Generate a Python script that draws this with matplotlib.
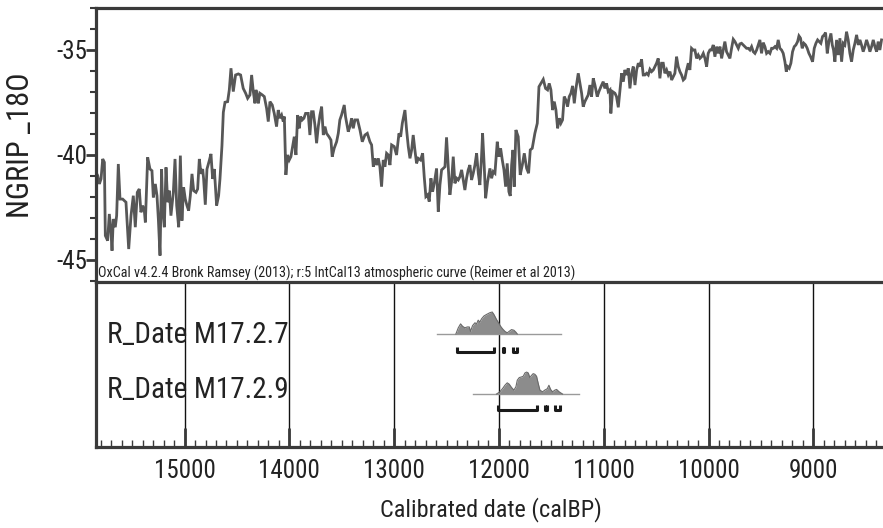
import matplotlib
matplotlib.use("Agg")
import matplotlib.pyplot as plt
from matplotlib.ticker import MultipleLocator
import matplotlib.transforms as mtransforms

FONT = ['Roboto Condensed', 'DejaVu Sans Condensed', 'Liberation Sans']
plt.rcParams['font.family'] = FONT

# ---------------- data ----------------
ngrip_years = [
    15845, 15829, 15813, 15797, 15781, 15765, 15756, 15734, 15718, 15702,
    15692, 15680, 15661, 15648, 15632, 15616, 15591, 15559, 15533, 15511,
    15489, 15470, 15451, 15432, 15416, 15400, 15384, 15374, 15352, 15330,
    15311, 15298, 15279, 15263, 15250, 15234, 15219, 15209, 15193, 15177,
    15161, 15145, 15130, 15107, 15091, 15075, 15056, 15040, 15025, 15009,
    14993, 14977, 14961, 14945, 14929, 14913, 14891, 14875, 14859, 14843,
    14827, 14818, 14802, 14786, 14764, 14748, 14732, 14716, 14694, 14675,
    14662, 14643, 14630, 14614,
    14589, 14573, 14557, 14535, 14513, 14487, 14465, 14440, 14417, 14398,
    14376, 14360, 14344, 14328, 14319, 14306, 14296, 14281, 14258, 14239,
    14217, 14201, 14185, 14163, 14144, 14122, 14106, 14090, 14074, 14058,
    14048, 14033, 14017, 14001, 13985, 13969, 13953, 13937, 13921, 13905,
    13893, 13877, 13861, 13845, 13820, 13804, 13788, 13772, 13756, 13740,
    13724, 13708, 13692, 13676, 13660, 13645, 13622, 13603, 13591, 13572,
    13549, 13533, 13518, 13502, 13476, 13464, 13438, 13422, 13406, 13390,
    13374,
    13349, 13326, 13304, 13279, 13256, 13231, 13215, 13199, 13183, 13167,
    13151, 13136, 13120, 13104, 13088, 13072, 13056, 13040, 13024, 12999,
    12977, 12954, 12938, 12922, 12897, 12881, 12865, 12849, 12833, 12818,
    12802, 12786, 12770, 12748, 12728, 12713, 12697, 12681, 12665, 12649,
    12633, 12617, 12595, 12579, 12563, 12547, 12531, 12515, 12500, 12484,
    12468, 12452, 12436, 12420, 12404, 12388, 12372, 12356, 12340, 12325,
    12309, 12293, 12277, 12261, 12245, 12229, 12213, 12197, 12182, 12166,
    12156, 12140, 12127, 12108, 12086,
    12070, 12054, 12038, 12016, 12000, 11984, 11968, 11952, 11936, 11921,
    11905, 11892, 11879, 11866, 11854, 11838, 11816, 11797, 11777, 11758,
    11736, 11717, 11701, 11682, 11657, 11634, 11618, 11599, 11577, 11555,
    11536, 11520, 11504, 11488, 11472, 11456, 11440, 11424, 11409, 11393,
    11377, 11361, 11345, 11329, 11313, 11297, 11281, 11265, 11243, 11227,
    11211, 11196, 11180, 11164, 11148, 11132, 11116, 11100, 11084, 11062,
    11046, 11027, 11005, 10989, 10973, 10957, 10941, 10932, 10916, 10893,
    10878,
    10861, 10845, 10829, 10813, 10798, 10782, 10766, 10750, 10734, 10718,
    10702, 10686, 10670, 10654, 10639, 10623, 10607, 10591, 10575, 10559,
    10543, 10527, 10511, 10496, 10480, 10464, 10448, 10432, 10416, 10400,
    10384, 10368, 10352, 10337, 10321, 10305, 10289, 10273, 10257, 10241,
    10225, 10209, 10193, 10178, 10162, 10146, 10130, 10114, 10098, 10082,
    10066, 10050, 10034, 10018, 10003, 9987, 9971, 9955, 9939, 9923,
    9907, 9891, 9875, 9859, 9844, 9828, 9812, 9796, 9780, 9764,
    9748, 9732, 9716, 9701, 9685, 9669, 9653, 9637,
    9621, 9605, 9589, 9573, 9557, 9541, 9525, 9510, 9494, 9478,
    9462, 9446, 9430, 9414, 9398, 9382, 9366, 9350, 9335, 9319,
    9303, 9287, 9271, 9258, 9246, 9230, 9214, 9198, 9182, 9166,
    9150, 9137, 9122, 9106, 9090, 9074, 9058, 9042, 9026, 9007,
    8991, 8975, 8959, 8943, 8928, 8912, 8896, 8883, 8867, 8851,
    8832, 8819, 8807, 8794, 8778, 8762, 8746, 8730, 8714, 8699,
    8683, 8667, 8651, 8635, 8619, 8603, 8587, 8571, 8555, 8540,
    8524, 8508, 8492, 8476, 8460, 8444, 8428, 8412, 8396, 8381,
    8365, 8349,
]
ngrip_d18o = [
    -40.83, -40.98, -41.38, -41.14, -40.19, -40.35, -43.84, -44.08, -42.81, -43.68,
    -44.56, -43.05, -43.44, -42.89, -40.43, -42.10, -42.10, -42.25, -44.48, -42.89,
    -41.94, -43.44, -41.78, -41.62, -42.73, -42.41, -42.65, -43.21, -40.11, -40.67,
    -40.75, -42.02, -41.38, -41.94, -43.05, -44.79, -40.67, -42.57, -43.44, -40.59,
    -42.25, -41.70, -42.89, -41.78, -40.19, -42.41, -43.44, -40.03, -43.13, -41.54,
    -42.10, -42.41, -42.65, -41.94, -40.90, -41.70, -41.78, -41.62, -40.19, -40.90,
    -40.67, -41.14, -42.37, -40.67, -40.27, -39.95, -41.14, -40.67, -42.41, -41.94,
    -41.14, -39.56, -37.97, -37.49,
    -37.46, -36.90, -35.87, -36.98, -36.19, -36.14, -36.19, -36.83, -37.06, -37.30,
    -37.14, -36.19, -36.98, -37.54, -36.90, -37.14, -37.54, -37.06, -37.14, -37.22,
    -37.78, -38.41, -37.46, -37.62, -38.02, -38.65, -37.86, -38.25, -38.10, -38.41,
    -38.17, -40.95, -40.00, -40.24, -40.08, -39.60, -39.13, -40.00, -38.10, -38.73,
    -38.17, -38.33, -38.25, -38.02, -38.02, -39.05, -37.94, -37.94, -38.57, -39.44,
    -38.65, -38.10, -37.70, -39.05, -38.65, -38.97, -39.13, -39.29, -40.08, -39.68,
    -39.37, -38.97, -38.33, -38.10, -37.62, -38.17, -38.89, -38.65, -38.25, -38.73,
    -38.33,
    -38.33, -38.81, -39.37, -39.05, -38.97, -39.37, -39.52, -40.56, -40.16, -40.48,
    -40.16, -40.56, -41.51, -40.24, -40.56, -39.92, -40.00, -40.48, -39.52, -39.60,
    -40.00, -38.97, -39.13, -38.49, -37.86, -38.81, -39.60, -40.16, -39.76, -39.05,
    -39.76, -40.40, -40.16, -40.24, -39.92, -41.03, -41.98, -41.90, -42.22, -41.11,
    -41.75, -41.35, -40.64, -42.70, -41.43, -40.71, -40.64, -40.56, -39.16, -40.56,
    -41.90, -41.27, -40.08, -41.35, -41.11, -41.19, -41.03, -40.71, -41.19, -41.67,
    -41.11, -40.71, -40.48, -41.19, -40.87, -40.48, -39.92, -40.87, -41.43, -40.08,
    -38.97, -40.56, -42.06, -41.27, -40.64,
    -41.11, -40.79, -40.87, -39.37, -40.08, -39.68, -40.24, -40.71, -41.51, -40.40,
    -41.75, -41.95, -40.48, -39.76, -41.51, -38.81, -39.13, -40.95, -40.48, -39.92,
    -40.63, -40.87, -39.76, -39.68, -38.97, -38.49, -36.75, -36.59, -36.40, -36.83,
    -36.90, -36.59, -36.90, -37.86, -37.46, -37.86, -38.73, -38.25, -38.49, -38.33,
    -37.22, -37.38, -37.70, -37.22, -37.06, -36.71, -37.54, -36.83, -36.11, -36.59,
    -37.06, -37.70, -37.46, -37.30, -37.14, -36.67, -37.22, -36.35, -36.67, -37.22,
    -36.98, -36.75, -36.51, -36.83, -36.59, -36.98, -36.90, -38.02, -36.98, -37.06,
    -37.22,
    -37.73, -36.90, -36.11, -36.51, -35.95, -36.19, -35.87, -36.83, -36.11, -35.79,
    -36.67, -35.95, -35.63, -35.79, -35.44, -36.19, -36.19, -36.11, -36.19, -35.92,
    -36.03, -35.95, -35.79, -35.63, -35.40, -36.35, -35.63, -35.63, -36.11, -35.95,
    -36.19, -36.03, -36.43, -36.27, -36.11, -35.32, -35.79, -36.03, -36.19, -36.43,
    -36.35, -35.95, -35.63, -35.95, -34.92, -35.00, -35.00, -35.40, -35.24, -35.40,
    -35.32, -35.16, -35.40, -35.79, -35.16, -35.00, -35.00, -34.76, -35.32, -34.84,
    -35.16, -34.84, -35.40, -35.00, -34.60, -35.08, -35.24, -35.40, -34.92, -34.49,
    -34.60, -34.76, -34.92, -34.71, -34.68, -34.76, -34.84, -34.92,
    -34.92, -35.00, -34.84, -35.08, -35.16, -35.00, -34.76, -34.52, -35.16, -34.65,
    -34.84, -35.16, -35.08, -35.16, -34.92, -34.92, -34.84, -34.92, -34.52, -34.92,
    -35.00, -35.16, -35.56, -36.03, -35.79, -35.87, -35.63, -35.08, -34.84, -34.76,
    -34.60, -34.33, -34.44, -34.92, -34.68, -34.76, -34.92, -35.16, -35.32, -35.56,
    -34.92, -34.68, -34.52, -34.60, -34.68, -34.36, -34.28, -34.17, -35.16, -34.60,
    -34.21, -34.76, -35.00, -35.56, -34.52, -35.24, -34.44, -35.56, -34.68, -34.76,
    -34.13, -34.52, -35.16, -35.56, -35.00, -34.68, -34.28, -34.76, -34.52, -34.76,
    -35.08, -34.84, -34.52, -34.76, -35.08, -34.84, -34.52, -34.84, -35.08, -34.60,
    -35.00, -34.52,
]

date_labels = ["R_Date M17.2.7", "R_Date M17.2.9"]

# calibrated probability distributions (relative probability)
dist1_years = [12411, 12388, 12366, 12347, 12325, 12302, 12283, 12271, 12252, 12229,
               12213, 12198, 12182, 12166, 12143, 12118, 12086, 12064, 12048, 12023,
               12004, 11984, 11965, 11943, 11921, 11902, 11880, 11857, 11838, 11825]
dist1_prob = [0.00, 0.28, 0.46, 0.35, 0.28, 0.32, 0.32, 0.12, 0.38, 0.51,
              0.46, 0.63, 0.54, 0.69, 0.82, 0.89, 0.97, 1.00, 0.89, 0.66,
              0.51, 0.35, 0.23, 0.12, 0.05, 0.12, 0.20, 0.17, 0.08, 0.00]
dist2_years = [12023, 11991, 11965, 11943, 11921, 11902, 11880, 11857, 11838, 11825,
               11806, 11784, 11768, 11752, 11736, 11720, 11705, 11689, 11673, 11657,
               11641, 11625, 11609, 11584, 11562, 11539, 11523, 11507, 11488, 11466,
               11450, 11425, 11403, 11393]
dist2_prob = [0.00, 0.10, 0.25, 0.40, 0.51, 0.45, 0.30, 0.18, 0.33, 0.63,
              0.75, 0.78, 0.81, 0.96, 1.00, 0.96, 0.75, 0.85, 0.93, 0.90,
              0.81, 0.48, 0.18, 0.10, 0.18, 0.24, 0.40, 0.21, 0.10, 0.18,
              0.21, 0.10, 0.03, 0.00]

# extent of the baseline drawn under each distribution
base1 = (12589, 11403)
base2 = (12245, 11234)

# 95.4 % ranges
ranges1 = [(12398, 12049), (11962, 11956), (11870, 11832)]
ranges2 = [(12011, 11634), (11560, 11545), (11468, 11421)]

x_major = [15000, 14000, 13000, 12000, 11000, 10000, 9000]
y_major = [-35, -40, -45]

# ---------------- figure ----------------
W, H = 883, 528
fig = plt.figure(figsize=(W / 100, H / 100), dpi=100)
left = 96 / W
width = (W - 96) / W
ax1 = fig.add_axes([left, 1 - 282 / H, width, (282 - 8) / H])
ax2 = fig.add_axes([left, 1 - 447 / H, width, (447 - 282) / H])

XL = (15845, 8335)
line_col = '#575757'
spine_col = '#3a3a3a'
txt_col = '#222222'

# --- top panel ---
ax1.plot(ngrip_years, ngrip_d18o, color=line_col, lw=2.0, solid_joinstyle='miter')
ax1.set_xlim(*XL)
ax1.set_ylim(-46.05, -33.0)
ax1.set_yticks(y_major)
ax1.set_yticklabels([str(v) for v in y_major])
ax1.yaxis.set_minor_locator(MultipleLocator(1))
ax1.tick_params(axis='y', which='major', direction='out', length=7, width=2,
                color=spine_col, pad=-1, labelsize=18, labelcolor=txt_col)
ax1.tick_params(axis='y', which='minor', direction='out', length=4, width=1.5,
                color=spine_col)
ax1.tick_params(axis='x', which='both', bottom=False, labelbottom=False)
for s in ['right', 'bottom']:
    ax1.spines[s].set_visible(False)
ax1.spines['top'].set_linewidth(2.3)
ax1.spines['top'].set_color(spine_col)
ax1.spines['left'].set_linewidth(2.3)
ax1.spines['left'].set_color(spine_col)
ax1.patch.set_alpha(0)
ax1.text(0.002, 0.005,
         "OxCal v4.2.4 Bronk Ramsey (2013); r:5 IntCal13 atmospheric curve (Reimer et al 2013)",
         transform=ax1.transAxes, fontsize=10.2, color=txt_col,
         ha='left', va='bottom')

# --- bottom panel ---
ax2.set_xlim(*XL)
ax2.set_ylim(0, 1)
ax2.set_yticks([])
ax2.set_xticks(x_major)
ax2.set_xticklabels([str(v) for v in x_major])
ax2.xaxis.set_minor_locator(MultipleLocator(100))
ax2.tick_params(axis='x', which='major', direction='in', length=14, width=2,
                color=spine_col, pad=9, labelsize=18, labelcolor=txt_col)
ax2.tick_params(axis='x', which='minor', direction='in', length=5, width=1,
                color=spine_col)
ax2.grid(axis='x', which='major', color='#111111', lw=1)
ax2.spines['right'].set_visible(False)
for s in ['top', 'bottom', 'left']:
    ax2.spines[s].set_linewidth(2.3)
    ax2.spines[s].set_color(spine_col)

rows = [
    (0.685, 0.576, 0.68, dist1_years, dist1_prob, base1, ranges1),
    (0.321, 0.224, 0.345, dist2_years, dist2_prob, base2, ranges2),
]
trans = mtransforms.blended_transform_factory(ax2.transAxes, ax2.transData)
peak_h = 0.133
tick_h = 0.032
for label, (yb, yr, yl, yrs, prob, base, rngs) in zip(date_labels, rows):
    ax2.plot(list(base), [yb, yb], color='#9a9a9a', lw=1.0, zorder=3)
    ys = [yb + p * peak_h for p in prob]
    ax2.fill_between(yrs, yb, ys, color='#8c8c8c', lw=0, zorder=3)
    ax2.plot(yrs, ys, color='#6a6a6a', lw=0.8, zorder=4)
    for a, b in rngs:
        ax2.plot([a, a, b, b], [yr + tick_h, yr, yr, yr + tick_h],
                 color='#1a1a1a', lw=2.2, solid_capstyle='butt', zorder=4)
    ax2.text(0.014, yl, label, transform=trans, fontsize=21, color=txt_col,
             ha='left', va='center')

fig.text(21 / W, 1 - 145 / H, "NGRIP _18O", rotation=90, fontsize=22,
         color=txt_col, ha='center', va='center')
fig.text(491 / W, 1 - 510 / H, "Calibrated date (calBP)", fontsize=17.5,
         color=txt_col, ha='center', va='center')

fig.savefig("out.png", dpi=100, facecolor='white')
